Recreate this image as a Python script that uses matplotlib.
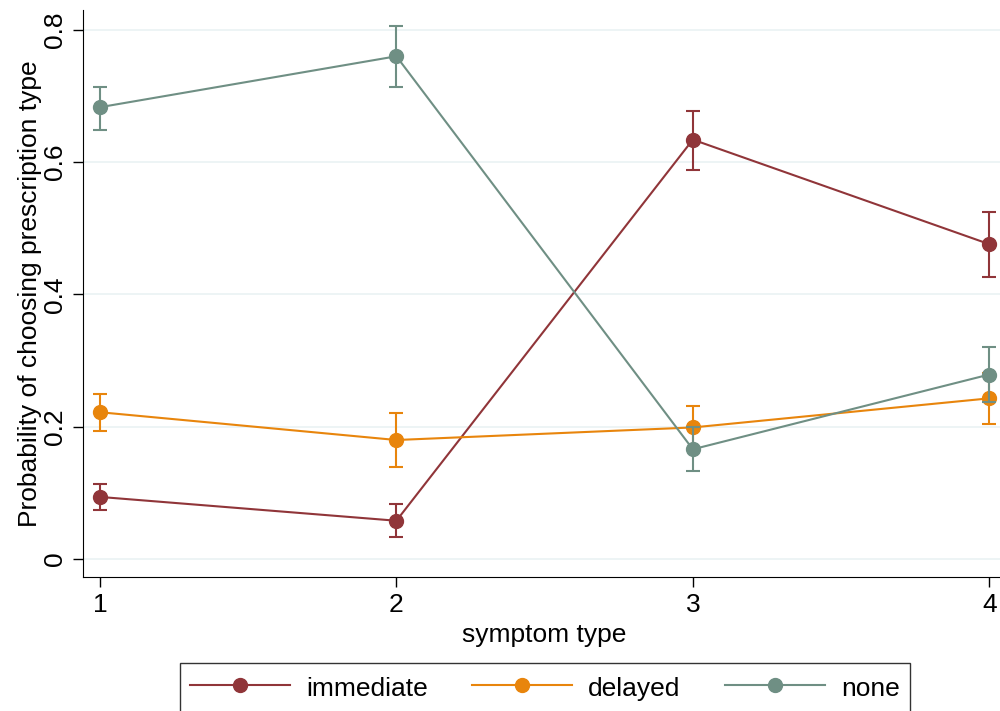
import numpy as np
import matplotlib
matplotlib.use('Agg')
import matplotlib.pyplot as plt

plt.rcParams['font.family'] = ['Liberation Sans', 'DejaVu Sans']

# data
symptom = [1, 2, 3, 4]
immediate = [0.094, 0.058, 0.634, 0.476]
immediate_lo = [0.074, 0.033, 0.588, 0.427]
immediate_hi = [0.113, 0.083, 0.678, 0.525]
delayed = [0.222, 0.180, 0.199, 0.243]
delayed_lo = [0.193, 0.139, 0.166, 0.204]
delayed_hi = [0.250, 0.221, 0.232, 0.282]
none = [0.683, 0.760, 0.166, 0.279]
none_lo = [0.649, 0.713, 0.133, 0.238]
none_hi = [0.714, 0.806, 0.199, 0.320]

series = [
    ('immediate', immediate, immediate_lo, immediate_hi, '#903539'),
    ('delayed', delayed, delayed_lo, delayed_hi, '#e8850c'),
    ('none', none, none_lo, none_hi, '#6f8f84'),
]

fig = plt.figure(figsize=(10, 7.11), dpi=100)
ax = fig.add_axes([0.0833, 0.1885, 0.9167, 0.7975])

for name, y, lo, hi, col in series:
    y = np.array(y)
    err = [y - np.array(lo), np.array(hi) - y]
    ax.errorbar(symptom, y, yerr=err, fmt='none', ecolor=col, elinewidth=1.5,
                capsize=4.7, capthick=1.5)
    ax.plot(symptom, y, '-o', color=col, lw=1.5, ms=10, label=name)

ax.set_xlim(0.944, 4.036)
ax.set_ylim(-0.027, 0.830)
ax.set_xticks(symptom)
ax.set_yticks([0, 0.2, 0.4, 0.6, 0.8])
ax.set_yticklabels(['0', '0.2', '0.4', '0.6', '0.8'], rotation=90, va='center')
ax.tick_params(axis='both', labelsize=19, length=7, width=1, pad=4.5)
ax.grid(axis='y', color='#eaf2f3', lw=1.2)
ax.set_axisbelow(True)
for s in ['top', 'right']:
    ax.spines[s].set_visible(False)

ax.set_ylabel('Probability of choosing prescription type', fontsize=19, labelpad=1)
fig.text(0.544, 1 - 642 / 711, 'symptom type', fontsize=19, ha='center', va='baseline')

# legend box runs off the bottom edge like in the original
leg = fig.legend(loc='upper center', bbox_to_anchor=(0.545, 1 - 663 / 711), ncol=3,
                 fontsize=19, handlelength=3.79, handletextpad=0.6, columnspacing=1.7,
                 handleheight=1.31, frameon=True, fancybox=False, edgecolor='black',
                 borderpad=0.38, borderaxespad=0)
leg.get_frame().set_linewidth(1)

plt.savefig('out.png', dpi=100)
